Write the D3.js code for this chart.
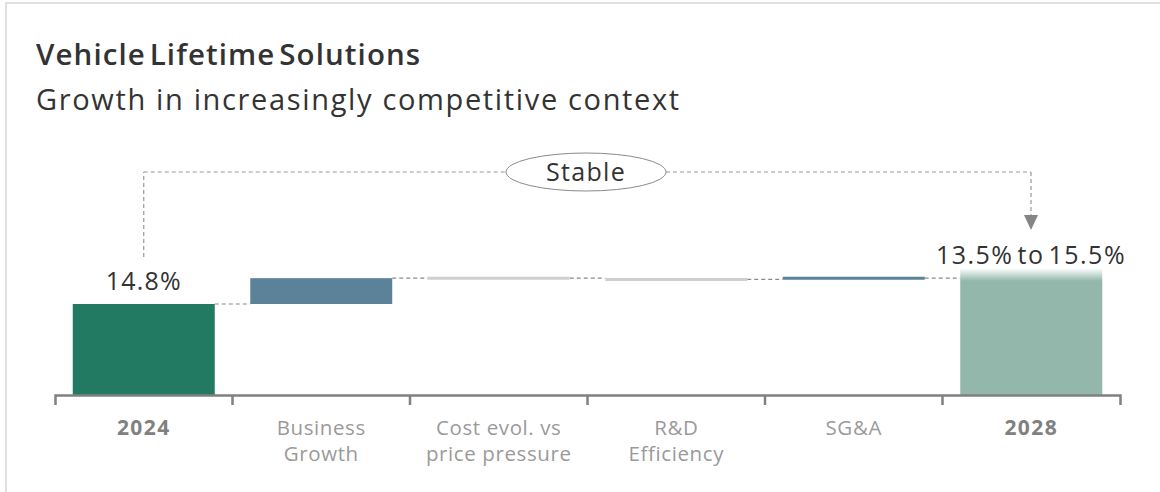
<!DOCTYPE html>
<html>
<head>
<meta charset="utf-8">
<script src="https://cdn.jsdelivr.net/npm/d3@7"></script>
<style>
  body { margin: 0; background: #fff; }
  svg text { font-family: "Open Sans", "Noto Sans", sans-serif; }
</style>
</head>
<body>
<div id="chart"></div>
<script>
// waterfall data (percentage points, schematic as in source)
const categories = ["2024", "Business Growth", "Cost evol. vs price pressure", "R&D Efficiency", "SG&A", "2028"];
const labelLines = [["2024"], ["Business", "Growth"], ["Cost evol. vs", "price pressure"], ["R&D", "Efficiency"], ["SG&A"], ["2028"]];
const startValue = 14.8;
const deltas = [4.2, 0, -0.2, 0.2];
const endValue = 19.0;
const startLabel = "14.8%";
const endLabel = "13.5% to 15.5%";
const bracketLabel = "Stable";

const W = 1160, H = 492;
const svg = d3.select("#chart").append("svg").attr("width", W).attr("height", H);

// light frame
svg.append("rect").attr("x", 6).attr("y", 3).attr("width", 1200).attr("height", 600)
  .attr("fill", "none").attr("stroke", "#d6d6d6").attr("stroke-width", 1.5);

svg.append("text").attr("x", 36).attr("y", 65)
  .attr("font-size", 29.5).attr("font-weight", 600).attr("fill", "#333")
  .attr("letter-spacing", 1.1).attr("word-spacing", -5)
  .text("Vehicle Lifetime Solutions");
svg.append("text").attr("x", 36).attr("y", 110)
  .attr("font-size", 29).attr("fill", "#333").attr("letter-spacing", 1.65)
  .text("Growth in increasingly competitive context");

const baseY = 395;
const x = d3.scaleBand().domain(categories).range([55, 1120]).paddingInner(0.2).paddingOuter(0.1);
const y = d3.scaleLinear().domain([0, startValue]).range([baseY, 304]);

// build steps
const steps = [];
let level = startValue;
steps.push({cat: categories[0], y0: 0, y1: startValue, type: "start"});
deltas.forEach((d, i) => {
  const from = level;
  level += d;
  steps.push({cat: categories[i + 1], y0: from, y1: level, delta: d, type: "delta"});
});
steps.push({cat: categories[5], y0: 0, y1: endValue, type: "end"});

const colors = {start: "#237a63", up: "#5b8299", flat: "#cfcfcf", end: "#93b8ab"};

const defs = svg.append("defs");
const grad = defs.append("linearGradient").attr("id", "fade").attr("x1", 0).attr("x2", 0).attr("y1", 0).attr("y2", 1);
grad.append("stop").attr("offset", 0).attr("stop-color", colors.end).attr("stop-opacity", 0);
grad.append("stop").attr("offset", 0.1).attr("stop-color", colors.end).attr("stop-opacity", 1);
grad.append("stop").attr("offset", 1).attr("stop-color", colors.end).attr("stop-opacity", 1);

const g = svg.append("g");

// connectors
for (let i = 0; i < steps.length - 1; i++) {
  const lv = steps[i].y1;
  g.append("line")
    .attr("x1", x(steps[i].cat) + x.bandwidth()).attr("x2", x(steps[i + 1].cat))
    .attr("y1", y(lv)).attr("y2", y(lv))
    .attr("stroke", "#8a8a8a").attr("stroke-width", 1.2).attr("stroke-dasharray", "4,3");
}

steps.forEach(s => {
  const bx = x(s.cat), bw = x.bandwidth();
  if (s.type === "start") {
    g.append("rect").attr("x", bx).attr("width", bw)
      .attr("y", y(s.y1)).attr("height", y(0) - y(s.y1)).attr("fill", colors.start);
  } else if (s.type === "end") {
    const top = y(s.y1) - 10;
    g.append("rect").attr("x", bx).attr("width", bw)
      .attr("y", top).attr("height", y(0) - top).attr("fill", "url(#fade)");
  } else if (Math.abs(y(s.y0) - y(s.y1)) > 4) {
    g.append("rect").attr("x", bx).attr("width", bw)
      .attr("y", y(Math.max(s.y0, s.y1))).attr("height", Math.abs(y(s.y0) - y(s.y1)))
      .attr("fill", colors.up);
  } else {
    g.append("line").attr("x1", bx).attr("x2", bx + bw)
      .attr("y1", y(s.y1)).attr("y2", y(s.y1))
      .attr("stroke", s.delta > 0 ? colors.up : colors.flat).attr("stroke-width", 3);
  }
});

// value labels
g.append("text").attr("x", x(categories[0]) + x.bandwidth() / 2).attr("y", 290)
  .attr("text-anchor", "middle").attr("font-size", 25).attr("letter-spacing", 1.2)
  .attr("fill", "#333").text(startLabel);
g.append("text").attr("x", 1031).attr("y", 264)
  .attr("text-anchor", "middle").attr("font-size", 25).attr("fill", "#333")
  .attr("letter-spacing", 1.5).attr("word-spacing", -4).text(endLabel);

// "Stable" bracket
const sx = x(categories[0]) + x.bandwidth() / 2;
const ex = 1031;
const by = 172;
const ell = {cx: 586, rx: 80, ry: 19};
const dash = {stroke: "#999", "stroke-width": 1.2, "stroke-dasharray": "4,3", fill: "none"};
const bracket = svg.append("g");
[[sx, 257, sx, by], [sx, by, ell.cx - ell.rx, by], [ell.cx + ell.rx, by, ex, by], [ex, by, ex, 215]]
  .forEach(p => {
    const l = bracket.append("line").attr("x1", p[0]).attr("y1", p[1]).attr("x2", p[2]).attr("y2", p[3]);
    Object.entries(dash).forEach(([k, v]) => l.attr(k, v));
  });
bracket.append("path").attr("d", `M${ex - 7},215 L${ex + 7},215 L${ex},230 Z`).attr("fill", "#858585");
bracket.append("ellipse").attr("cx", ell.cx).attr("cy", by).attr("rx", ell.rx).attr("ry", ell.ry)
  .attr("fill", "#fff").attr("stroke", "#8a8a8a").attr("stroke-width", 1);
bracket.append("text").attr("x", ell.cx).attr("y", by + 9).attr("text-anchor", "middle")
  .attr("font-size", 25).attr("letter-spacing", 1.3).attr("fill", "#333").text(bracketLabel);

// axis
const axis = svg.append("g").attr("transform", `translate(0,${baseY})`)
  .call(d3.axisBottom(x).tickSize(0).tickSizeOuter(10).tickFormat(""));
axis.select(".domain").attr("stroke", "#808080").attr("stroke-width", 2.5);
categories.slice(1).forEach(c => {
  const tx = x(c) - x.step() * x.paddingInner() / 2;
  axis.append("line").attr("x1", tx).attr("x2", tx).attr("y1", 0).attr("y2", 10)
    .attr("stroke", "#808080").attr("stroke-width", 2.5);
});
axis.selectAll(".tick").each(function(d, i) {
  const bold = (i === 0 || i === 5);
  const t = d3.select(this).append("text").attr("text-anchor", "middle")
    .attr("font-size", bold ? 21 : 20.5)
    .attr("letter-spacing", bold ? 1.4 : 0.6)
    .attr("fill", bold ? "#808080" : "#9a9a9a")
    .attr("font-weight", bold ? 700 : 400);
  labelLines[i].forEach((ln, j) => {
    t.append("tspan").attr("x", 0).attr("y", 40 + j * 26).text(ln);
  });
});
</script>
</body>
</html>
